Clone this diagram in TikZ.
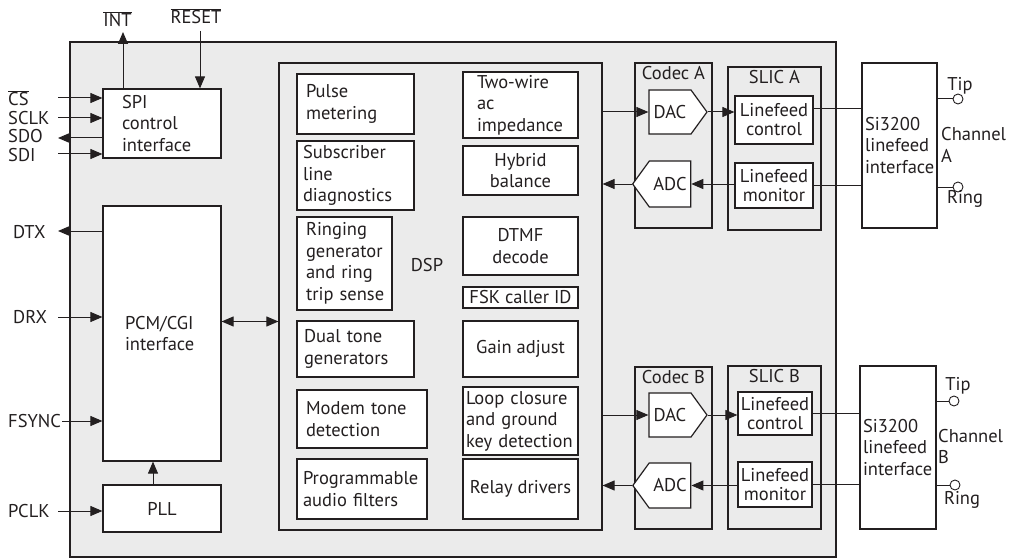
\documentclass[tikz,border=0pt]{standalone}
\usepackage{fontspec}
\setmainfont{PT Sans}
\usetikzlibrary{arrows.meta, shapes.symbols}

\definecolor{chipgray}{RGB}{235,235,235}
\definecolor{ink}{RGB}{35,31,32}
\newcommand{\dgfont}{\fontsize{18.5}{21.5}\selectfont}
\newcommand{\actlow}[1]{$\overline{\mbox{#1}}$}

\begin{document}
\begin{tikzpicture}[x=1pt, y=-1pt,
  every node/.style={font=\dgfont, text=ink},
  box/.style={draw=ink, line width=1.2pt, fill=white, inner sep=0pt, align=center},
  lbox/.style={box, align=left},
  lfbox/.style={box, font=\fontsize{18.5}{19}\selectfont},
  gbox/.style={draw=ink, line width=1.2pt, fill=chipgray, inner sep=0pt},
  title/.style={anchor=north, yshift=-2pt, inner sep=2pt},
  conv/.style={box, shape=signal, signal pointer angle=108, minimum width=58pt},
  pin/.style={anchor=west, inner sep=0pt},
  term/.style={circle, draw=ink, line width=0.9pt, fill=white, minimum size=10pt, inner sep=0pt},
  wire/.style={draw=ink, line width=1pt},
  arr/.style={wire, -{Triangle[length=12pt, width=10pt]}},
  darr/.style={wire, {Triangle[length=12pt, width=10pt]}-{Triangle[length=12pt, width=10pt]}}
]
\useasboundingbox (0,0) rectangle (1012,559);

% chip outline
\node[gbox, line width=1.7pt, minimum width=766pt, minimum height=515pt] (chip) at (453,299.5) {};

% host side blocks
\node[lbox, minimum width=118pt, minimum height=69pt, text width=80pt] (spi) at (162,123.5) {SPI\\control\\interface};
\node[lbox, minimum width=118pt, minimum height=255pt, text width=74pt] (pcm) at (162,333.5) {PCM/CGI\\interface};
\node[box, minimum width=118pt, minimum height=47pt] (pll) at (162,508.5) {PLL};

% pins
\node (intl) at (117.5,19) {\actlow{INT}};
\node (rstl) at (196,16.5) {\actlow{RESET}};
\node[pin] (csl) at (8,98) {\actlow{CS}};
\node[pin] (sclkl) at (8,118) {SCLK};
\node[pin] (sdol) at (8,136) {SDO};
\node[pin] (sdil) at (8,155) {SDI};
\node[pin] (dtxl) at (13,232) {DTX};
\node[pin] (drxl) at (13,317) {DRX};
\node[pin] (fsyncl) at (8,421) {FSYNC};
\node[pin] (pclkl) at (8,511) {PCLK};

\coordinate (intout) at (123,32);
\coordinate (rstin) at (200,31);
\coordinate (csin) at (58,98);
\coordinate (sclkin) at (58,118);
\coordinate (sdoout) at (58,138);
\coordinate (sdiin) at (58,154);
\coordinate (dtxout) at (58,231);
\coordinate (drxin) at (58,317);
\coordinate (fsyncin) at (62,421);
\coordinate (pclkin) at (58,511);

\draw[arr] (intout |- spi.north) -- (intout);
\draw[arr] (rstin) -- (rstin |- spi.north);
\draw[arr] (csin) -- (csin -| spi.west);
\draw[arr] (sclkin) -- (sclkin -| spi.west);
\draw[arr] (sdoout -| spi.west) -- (sdoout);
\draw[arr] (sdiin) -- (sdiin -| spi.west);
\draw[arr] (dtxout -| pcm.west) -- (dtxout);
\draw[arr] (drxin) -- (drxin -| pcm.west);
\draw[arr] (fsyncin) -- (fsyncin -| pcm.west);
\draw[arr] (pclkin) -- (pclkin -| pll.west);
\draw[arr] ([xshift=-9pt]pll.north) -- ([xshift=-9pt]pcm.south);

% DSP
\node[gbox, minimum width=323pt, minimum height=467pt] (dsp) at (440.5,296.5) {};
\node (dspl) at (427,265) {DSP};

\node[lbox, minimum width=117pt, minimum height=60pt, text width=99pt] (pulse) at (355.5,104) {Pulse\\metering};
\node[lbox, minimum width=117pt, minimum height=69pt, text width=105pt] (subdiag) at (355.5,175.5) {Subscriber\\line\\diagnostics};
\node[lbox, minimum width=95pt, minimum height=93pt, text width=77pt] (ringgen) at (344.5,263.5) {Ringing\\generator\\and~ring\\trip~sense};
\node[lbox, minimum width=117pt, minimum height=56pt, text width=103pt] (dualtone) at (355.5,349) {Dual~tone\\generators};
\node[lbox, minimum width=130pt, minimum height=58pt, text width=112pt] (modem) at (362,419) {Modem~tone\\detection};
\node[lbox, minimum width=130pt, minimum height=60pt, text width=118pt] (progfilt) at (362,489) {Programmable\\audio~filters};

\node[lbox, minimum width=115pt, minimum height=66pt, text width=87pt] (twowire) at (520.5,105) {Two-wire\\ac\\impedance};
\node[box, minimum width=115pt, minimum height=49pt] (hybrid) at (520.5,170.5) {Hybrid\\balance};
\node[box, minimum width=115pt, minimum height=58pt] (dtmf) at (520.5,246) {DTMF\\decode};
\node[box, minimum width=115pt, minimum height=21pt] (fsk) at (520.5,297.5) {FSK caller ID};
\node[box, minimum width=115pt, minimum height=56pt] (gain) at (520.5,349) {Gain adjust};
\node[lbox, minimum width=115pt, minimum height=68pt, text width=109pt] (loopkey) at (520.5,421) {Loop~closure\\and~ground\\key~detection};
\node[box, minimum width=115pt, minimum height=60pt] (relay) at (520.5,489) {Relay drivers};

\draw[darr] ([yshift=12pt]pcm.east) -- ([yshift=12pt]pcm.east -| dsp.west);

% channel A
\node[gbox, minimum width=77pt, minimum height=165pt, label={[title]north:Codec A}] (codecA) at (673.5,145.5) {};
\node[gbox, minimum width=93pt, minimum height=163pt, label={[title]north:SLIC A}] (slicA) at (774.5,148.5) {};
\node[conv, signal to=east, minimum height=44pt] (dacA) at (670,112) {DAC};
\node[conv, signal to=west, minimum height=46pt] (adcA) at (670,184) {ADC};
\node[lfbox, minimum width=78pt, minimum height=48pt] (lfcA) at (774,120) {Linefeed\\control};
\node[lfbox, minimum width=78pt, minimum height=45pt] (lfmA) at (774,185.5) {Linefeed\\monitor};
\node[lbox, minimum width=75pt, minimum height=165pt, text width=69pt] (siA) at (899.5,145.5) {Si3200\\linefeed\\interface};
\node[term] (tipA) at (958,99) {};
\node[term] (ringA) at (958,187) {};
\node (tipAl) at (960,86) {Tip};
\node (ringAl) at (965,199) {Ring};
\node[anchor=west, align=left, inner sep=0pt] (chA) at (941,145) {Channel\\A};

\draw[arr] (dacA.west -| dsp.east) -- (dacA.west);
\draw[arr] (adcA.west) -- (adcA.west -| dsp.east);
\draw[arr] (dacA.east) -- (dacA.east -| lfcA.west);
\draw[arr] (adcA.east -| lfmA.west) -- (adcA.east);
\draw[wire] ([yshift=11pt]lfcA.east) -- ([yshift=11pt]lfcA.east -| siA.west);
\draw[wire] (lfmA.east) -- (lfmA.east -| siA.west);
\draw[wire] (tipA.west -| siA.east) -- (tipA.west);
\draw[wire] (ringA.west -| siA.east) -- (ringA.west);

% channel B
\node[gbox, minimum width=77pt, minimum height=162pt, label={[title]north:Codec B}] (codecB) at (673.5,448) {};
\node[gbox, minimum width=93pt, minimum height=163pt, label={[title]north:SLIC B}] (slicB) at (774.5,447.5) {};
\node[conv, signal to=east, minimum height=44pt] (dacB) at (670,415) {DAC};
\node[conv, signal to=west, minimum height=45pt] (adcB) at (670,485.5) {ADC};
\node[lfbox, minimum width=74pt, minimum height=43pt] (lfcB) at (775,413.5) {Linefeed\\control};
\node[lfbox, minimum width=74pt, minimum height=45pt] (lfmB) at (775,484.5) {Linefeed\\monitor};
\node[lbox, minimum width=76pt, minimum height=163pt, text width=70pt] (siB) at (898,447.5) {Si3200\\linefeed\\interface};
\node[term] (tipB) at (954,401) {};
\node[term] (ringB) at (955,485) {};
\node (tipBl) at (958,386) {Tip};
\node (ringBl) at (962,500) {Ring};
\node[anchor=west, align=left, inner sep=0pt] (chB) at (938,446.5) {Channel\\B};

\draw[arr] (dacB.west -| dsp.east) -- (dacB.west);
\draw[arr] (adcB.west) -- (adcB.west -| dsp.east);
\draw[arr] (dacB.east) -- (dacB.east -| lfcB.west);
\draw[arr] (adcB.east -| lfmB.west) -- (adcB.east);
\draw[wire] (lfcB.east) -- (lfcB.east -| siB.west);
\draw[wire] (lfmB.east) -- (lfmB.east -| siB.west);
\draw[wire] (tipB.west -| siB.east) -- (tipB.west);
\draw[wire] (ringB.west -| siB.east) -- (ringB.west);

\end{tikzpicture}
\end{document}
